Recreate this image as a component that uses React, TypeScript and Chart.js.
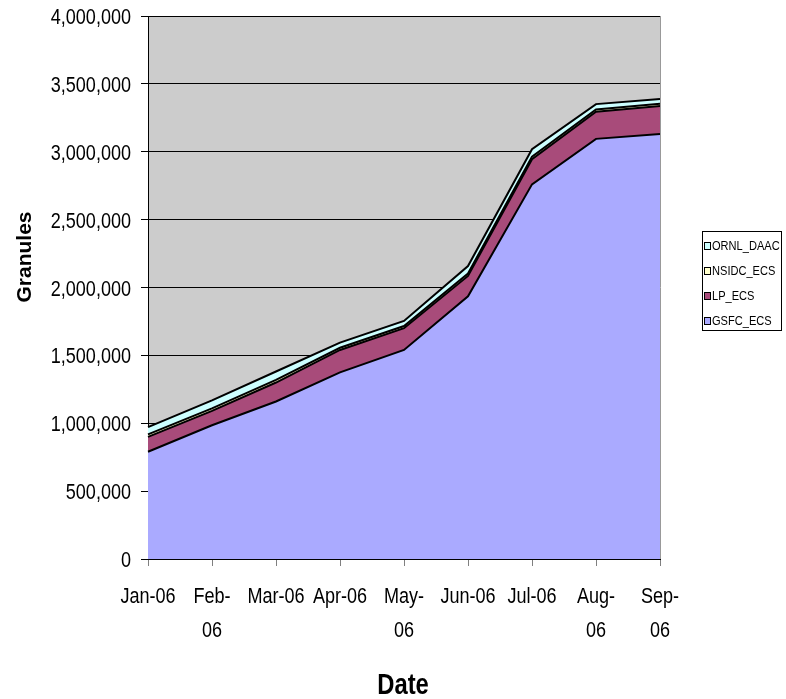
import React, { useEffect, useRef } from "react";
import { Chart, registerables } from "chart.js";

Chart.register(...registerables);

// Monthly cumulative granule counts per archive, 2006
const months: (string | string[])[] = [
  "Jan-06",
  ["Feb-", "06"],
  "Mar-06",
  "Apr-06",
  ["May-", "06"],
  "Jun-06",
  "Jul-06",
  ["Aug-", "06"],
  ["Sep-", "06"],
];

const gsfcEcs = [790000, 985000, 1160000, 1375000, 1540000, 1935000, 2760000, 3095000, 3130000];
const lpEcs = [110000, 106000, 140000, 165000, 160000, 150000, 185000, 200000, 207000];
const nsidcEcs = [18000, 18000, 19000, 16000, 16000, 18000, 18000, 16000, 16000];
const ornlDaac = [54000, 60000, 62000, 38000, 38000, 55000, 55000, 40000, 36000];

const yTickValues = [0, 500000, 1000000, 1500000, 2000000, 2500000, 3000000, 3500000, 4000000];

const seriesNames = ["GSFC_ECS", "LP_ECS", "NSIDC_ECS", "ORNL_DAAC"];
const seriesColors = ["#AAAAFF", "#A84B7A", "#FFFFCC", "#CCFFFF"];

const FAMILY = "'Liberation Sans', Arial, sans-serif";
const SQUEEZE = 0.82; // horizontal squeeze for the narrow label face

function narrowText(ctx: CanvasRenderingContext2D, text: string, x: number, y: number, align: CanvasTextAlign) {
  ctx.save();
  ctx.translate(x, y);
  ctx.scale(SQUEEZE, 1);
  ctx.textAlign = align;
  ctx.fillText(text, 0, 0);
  ctx.restore();
}

const plotBackground = {
  id: "plotBackground",
  beforeDraw(chart: any) {
    const { ctx, chartArea } = chart;
    ctx.save();
    ctx.fillStyle = "#CCCCCC";
    ctx.fillRect(chartArea.left, chartArea.top, chartArea.right - chartArea.left, chartArea.bottom - chartArea.top);
    ctx.restore();
  },
  afterDraw(chart: any) {
    const { ctx, chartArea } = chart;
    ctx.save();
    ctx.strokeStyle = "#999999";
    ctx.lineWidth = 1;
    ctx.beginPath();
    ctx.moveTo(chartArea.right + 0.5, chartArea.top);
    ctx.lineTo(chartArea.right + 0.5, chartArea.bottom);
    ctx.stroke();
    ctx.restore();
  },
};

// Tick labels and axis titles in a narrow face
const axisText = {
  id: "axisText",
  afterDraw(chart: any) {
    const { ctx, chartArea } = chart;
    const xs = chart.scales.x;
    const ys = chart.scales.y;
    ctx.save();
    ctx.fillStyle = "#000";
    ctx.textBaseline = "middle";
    ctx.font = `22px ${FAMILY}`;

    ys.ticks.forEach((t: any, i: number) => {
      const py = ys.getPixelForTick(i);
      narrowText(ctx, Number(t.value).toLocaleString("en-US"), 131, py + 2, "right");
    });

    xs.ticks.forEach((_t: any, i: number) => {
      const px = xs.getPixelForTick(i);
      const lbl = months[i];
      const lines = Array.isArray(lbl) ? lbl : [lbl];
      lines.forEach((ln, k) => {
        narrowText(ctx, ln, px, chartArea.bottom + 38 + k * 34, "center");
      });
    });

    ctx.font = `bold 29px ${FAMILY}`;
    narrowText(ctx, "Date", (chartArea.left + chartArea.right) / 2 - 1, 686, "center");

    ctx.translate(25, 257);
    ctx.rotate(-Math.PI / 2);
    ctx.font = `bold 21px ${FAMILY}`;
    ctx.textAlign = "center";
    ctx.fillText("Granules", 0, 0);
    ctx.restore();
  },
};

const boxedLegend = {
  id: "boxedLegend",
  afterDraw(chart: any) {
    const { ctx } = chart;
    const x = 702.5;
    const y = 231.5;
    const w = 79;
    const h = 99;
    ctx.save();
    ctx.fillStyle = "#FFFFFF";
    ctx.fillRect(x, y, w, h);
    ctx.strokeStyle = "#000";
    ctx.lineWidth = 1;
    ctx.strokeRect(x, y, w, h);
    ctx.font = `13.5px ${FAMILY}`;
    ctx.textBaseline = "middle";
    const ds = chart.data.datasets;
    for (let i = 0; i < ds.length; i++) {
      const idx = ds.length - 1 - i;
      const cy = 246 + i * 25;
      ctx.fillStyle = ds[idx].backgroundColor;
      ctx.fillRect(704.5, cy - 3.5, 6, 7);
      ctx.strokeStyle = "#000";
      ctx.strokeRect(704.5, cy - 3.5, 6, 7);
      ctx.fillStyle = "#000";
      narrowText(ctx, ds[idx].label, 712, cy + 0.5, "left");
    }
    ctx.restore();
  },
};

export default function App() {
  const canvasRef = useRef<HTMLCanvasElement | null>(null);

  useEffect(() => {
    if (!canvasRef.current) return;
    const values = [gsfcEcs, lpEcs, nsidcEcs, ornlDaac];
    const chart = new Chart(canvasRef.current, {
      type: "line",
      data: {
        labels: months,
        datasets: values.map((v, i) => ({
          label: seriesNames[i],
          data: v,
          backgroundColor: seriesColors[i],
          borderColor: "#000000",
          borderWidth: 2,
          pointRadius: 0,
          tension: 0,
          fill: i === 0 ? "origin" : "-1",
        })),
      },
      options: {
        responsive: false,
        animation: false,
        layout: { padding: { left: 0, right: 126, top: 16, bottom: 0 } },
        plugins: {
          legend: { display: false },
          tooltip: { enabled: false },
        },
        scales: {
          x: {
            offset: false,
            grid: {
              drawOnChartArea: false,
              color: "#808080",
              tickLength: 7,
            },
            border: { color: "#000000", width: 1 },
            ticks: { display: false, autoSkip: false, maxRotation: 0 },
            afterFit(scale: any) {
              scale.height = 140;
            },
          },
          y: {
            stacked: true,
            min: 0,
            max: 4000000,
            afterBuildTicks(scale: any) {
              scale.ticks = yTickValues.map((v) => ({ value: v }));
            },
            grid: {
              color: "#000000",
              lineWidth: 1,
              tickLength: 7,
            },
            border: { color: "#000000", width: 1 },
            ticks: { display: false },
            afterFit(scale: any) {
              scale.width = 148;
            },
          },
        },
      },
      plugins: [plotBackground, axisText, boxedLegend],
    });
    return () => chart.destroy();
  }, []);

  return (
    <div style={{ position: "absolute", left: 0, top: 0, width: 786, height: 699, background: "#fff" }}>
      <canvas ref={canvasRef} width={786} height={699} style={{ display: "block" }} />
    </div>
  );
}
